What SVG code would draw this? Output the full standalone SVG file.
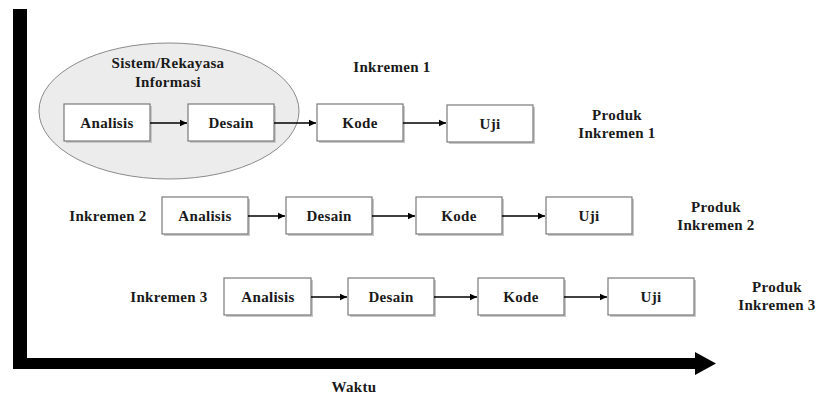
<svg xmlns="http://www.w3.org/2000/svg" width="817" height="396" viewBox="0 0 817 396">
<style>
text{font-family:"Liberation Serif","Times New Roman",serif;font-weight:bold;font-size:15px;letter-spacing:0.3px;fill:#1a1a1a;text-anchor:middle}
.box{fill:#fff;stroke:#7a7a7a;stroke-width:1.2}
.sh{fill:#c8c8c8}
.conn{stroke:#000;stroke-width:1.6;fill:none;marker-end:url(#ah)}
</style>
<defs>
<marker id="ah" markerWidth="8" markerHeight="8" refX="7" refY="4" orient="auto" markerUnits="userSpaceOnUse">
<path d="M0,0.8 L7,4 L0,7.2 Z" fill="#000"/>
</marker>
</defs>
<g id="axes">
<rect x="13" y="9" width="14" height="360" fill="#000"/>
<rect x="13" y="358" width="683" height="11" fill="#000"/>
<polygon points="695,352 716,363.5 695,375" fill="#000"/>
</g>
<g id="sistem">
<ellipse cx="169" cy="111" rx="130" ry="68" fill="#ececec" stroke="#8a8a8a" stroke-width="1"/>
<text x="168" y="68">Sistem/Rekayasa</text>
<text x="168" y="87">Informasi</text>
</g>
<g id="labels">
<text x="392" y="72">Inkremen 1</text>
<text x="617" y="120">Produk</text>
<text x="617" y="138">Inkremen 1</text>
<text x="108" y="221">Inkremen 2</text>
<text x="716" y="212">Produk</text>
<text x="716" y="230">Inkremen 2</text>
<text x="169" y="302">Inkremen 3</text>
<text x="777" y="292">Produk</text>
<text x="777" y="310">Inkremen 3</text>
<text x="354" y="392">Waktu</text>
</g>
<g id="r1-analisis"><rect class="sh" x="66" y="106" width="86" height="37"/><rect class="box" x="64" y="104" width="86" height="37"/><text x="107" y="128">Analisis</text></g>
<g id="r1-desain"><rect class="sh" x="190" y="106" width="86" height="37"/><rect class="box" x="188" y="104" width="86" height="37"/><text x="231" y="128">Desain</text></g>
<g id="r1-kode"><rect class="sh" x="319" y="106" width="86" height="37"/><rect class="box" x="317" y="104" width="86" height="37"/><text x="360" y="128">Kode</text></g>
<g id="r1-uji"><rect class="sh" x="449" y="107" width="86" height="37"/><rect class="box" x="447" y="105" width="86" height="37"/><text x="490" y="129">Uji</text></g>
<g id="r2-analisis"><rect class="sh" x="164" y="199" width="86" height="37"/><rect class="box" x="162" y="197" width="86" height="37"/><text x="205" y="221">Analisis</text></g>
<g id="r2-desain"><rect class="sh" x="288" y="199" width="86" height="37"/><rect class="box" x="286" y="197" width="86" height="37"/><text x="329" y="221">Desain</text></g>
<g id="r2-kode"><rect class="sh" x="418" y="199" width="86" height="37"/><rect class="box" x="416" y="197" width="86" height="37"/><text x="459" y="221">Kode</text></g>
<g id="r2-uji"><rect class="sh" x="548" y="199" width="86" height="37"/><rect class="box" x="546" y="197" width="86" height="37"/><text x="589" y="221">Uji</text></g>
<g id="r3-analisis"><rect class="sh" x="226" y="280" width="87" height="37"/><rect class="box" x="224" y="278" width="87" height="37"/><text x="268" y="302">Analisis</text></g>
<g id="r3-desain"><rect class="sh" x="350" y="280" width="86" height="37"/><rect class="box" x="348" y="278" width="86" height="37"/><text x="391" y="302">Desain</text></g>
<g id="r3-kode"><rect class="sh" x="480" y="280" width="86" height="37"/><rect class="box" x="478" y="278" width="86" height="37"/><text x="521" y="302">Kode</text></g>
<g id="r3-uji"><rect class="sh" x="610" y="280" width="86" height="37"/><rect class="box" x="608" y="278" width="86" height="37"/><text x="651" y="302">Uji</text></g>
<g id="connectors">
<line class="conn" x1="150" y1="123" x2="187" y2="123"/>
<line class="conn" x1="274" y1="123" x2="316" y2="123"/>
<line class="conn" x1="403" y1="123" x2="446" y2="123"/>
<line class="conn" x1="248" y1="216" x2="285" y2="216"/>
<line class="conn" x1="372" y1="216" x2="415" y2="216"/>
<line class="conn" x1="502" y1="216" x2="545" y2="216"/>
<line class="conn" x1="311" y1="297" x2="347" y2="297"/>
<line class="conn" x1="434" y1="297" x2="477" y2="297"/>
<line class="conn" x1="564" y1="297" x2="607" y2="297"/>
</g>
</svg>
